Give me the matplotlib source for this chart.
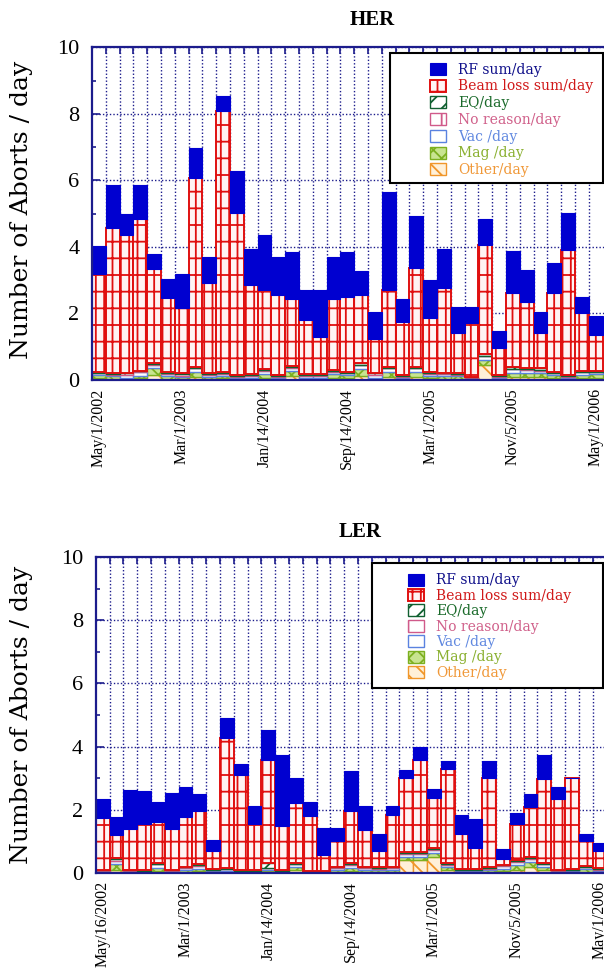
import matplotlib
matplotlib.use('Agg')
import matplotlib.pyplot as plt
from matplotlib.patches import Rectangle
import numpy as np

plt.rcParams['font.family'] = ['Liberation Serif', 'DejaVu Serif']
plt.rcParams['hatch.linewidth'] = 1.3

# ---- data (one value per run period) ----
her_tick_pos = [0, 6, 12, 18, 24, 30, 36]
her_tick_labels = ['May/1/2002', 'Mar/1/2003', 'Jan/14/2004', 'Sep/14/2004',
                   'Mar/1/2005', 'Nov/5/2005', 'May/1/2006']
ler_tick_pos = [0, 6, 12, 18, 24, 30, 36]
ler_tick_labels = ['May/16/2002', 'Mar/1/2003', 'Jan/14/2004', 'Sep/14/2004',
                   'Mar/1/2005', 'Nov/5/2005', 'May/1/2006']

her_rf = [0.83, 1.28, 0.65, 1.02, 0.45, 0.58, 1.03, 0.91, 0.78, 0.45, 1.26, 1.10, 1.63,
          1.15, 1.42, 0.90, 1.42, 1.27, 1.35, 0.73, 0.80, 2.93, 0.68, 1.55, 1.15, 1.17,
          0.80, 0.50, 0.80, 0.52, 1.26, 0.95, 0.63, 0.90, 1.10, 0.50, 0.57]
her_beam = [2.95, 4.37, 4.13, 4.57, 2.83, 2.23, 1.95, 5.67, 2.72, 7.84, 4.87, 2.67, 2.40,
            2.40, 2.01, 1.62, 1.10, 2.13, 2.25, 2.05, 1.01, 2.32, 1.60, 2.97, 1.60, 2.56,
            1.18, 1.60, 3.27, 0.80, 2.24, 2.00, 1.05, 2.37, 3.77, 1.72, 1.07]
her_eq = [0.03, 0.03, 0.02, 0.02, 0.05, 0.03, 0.03, 0.03, 0.03, 0.04, 0.02, 0.02, 0.03,
          0.02, 0.03, 0.02, 0.02, 0.03, 0.03, 0.04, 0.02, 0.03, 0.02, 0.03, 0.03, 0.02,
          0.03, 0.01, 0.05, 0.02, 0.04, 0.03, 0.04, 0.03, 0.02, 0.03, 0.03]
her_noreason = [0.02, 0.02, 0.05, 0.03, 0.02, 0.03, 0.05, 0.02, 0.02, 0.02, 0.03, 0.04, 0.02,
                0.03, 0.02, 0.05, 0.04, 0.02, 0.02, 0.02, 0.05, 0.02, 0.04, 0.02, 0.03, 0.02,
                0.03, 0.04, 0.02, 0.04, 0.02, 0.02, 0.03, 0.02, 0.04, 0.02, 0.02]
her_vac = [0.05, 0.04, 0.10, 0.10, 0.10, 0.06, 0.04, 0.12, 0.05, 0.06, 0.04, 0.05, 0.08,
           0.04, 0.10, 0.04, 0.05, 0.08, 0.06, 0.10, 0.08, 0.10, 0.04, 0.12, 0.06, 0.06,
           0.05, 0.02, 0.10, 0.04, 0.10, 0.10, 0.08, 0.06, 0.04, 0.07, 0.06]
her_mag = [0.10, 0.08, 0.03, 0.08, 0.20, 0.08, 0.05, 0.13, 0.07, 0.08, 0.04, 0.05, 0.12,
           0.04, 0.15, 0.05, 0.05, 0.10, 0.09, 0.22, 0.05, 0.15, 0.03, 0.13, 0.08, 0.08,
           0.07, 0.02, 0.16, 0.03, 0.14, 0.12, 0.12, 0.09, 0.03, 0.10, 0.10]
her_other = [0.05, 0.03, 0.02, 0.05, 0.15, 0.04, 0.03, 0.10, 0.03, 0.05, 0.02, 0.02, 0.07,
             0.02, 0.12, 0.02, 0.02, 0.07, 0.05, 0.12, 0.02, 0.10, 0.02, 0.10, 0.05, 0.04,
             0.04, 0.01, 0.45, 0.02, 0.08, 0.08, 0.08, 0.05, 0.02, 0.06, 0.07]

ler_rf = [0.59, 0.57, 1.24, 1.04, 0.64, 1.15, 0.95, 0.53, 0.34, 0.65, 0.35, 0.56, 0.94,
          2.23, 0.82, 0.44, 0.86, 0.43, 1.27, 0.75, 0.52, 0.27, 0.23, 0.41, 0.31, 0.26,
          0.58, 0.92, 0.53, 0.32, 0.34, 0.39, 0.76, 0.39, 0.00, 0.24, 0.24]
ler_beam = [1.64, 0.73, 1.29, 1.48, 1.28, 1.29, 1.58, 1.69, 0.58, 4.10, 3.01, 1.48, 3.25,
            1.42, 1.88, 1.75, 0.52, 0.80, 1.65, 1.17, 0.53, 1.65, 2.37, 2.92, 1.57, 2.98,
            1.12, 0.67, 2.84, 0.18, 1.16, 1.60, 2.64, 2.23, 2.88, 0.78, 0.56]
ler_eq = [0.02, 0.05, 0.02, 0.01, 0.03, 0.02, 0.02, 0.03, 0.02, 0.02, 0.01, 0.01, 0.15,
          0.01, 0.02, 0.01, 0.01, 0.02, 0.03, 0.02, 0.02, 0.02, 0.03, 0.03, 0.03, 0.03,
          0.02, 0.02, 0.02, 0.02, 0.03, 0.03, 0.03, 0.02, 0.02, 0.02, 0.02]
ler_noreason = [0.01, 0.05, 0.02, 0.02, 0.02, 0.02, 0.03, 0.02, 0.02, 0.02, 0.02, 0.02, 0.02,
                0.02, 0.02, 0.01, 0.01, 0.02, 0.02, 0.03, 0.02, 0.02, 0.02, 0.02, 0.02, 0.02,
                0.02, 0.02, 0.02, 0.02, 0.02, 0.02, 0.02, 0.02, 0.02, 0.02, 0.02]
ler_vac = [0.03, 0.10, 0.03, 0.02, 0.10, 0.03, 0.05, 0.08, 0.04, 0.06, 0.02, 0.02, 0.05,
           0.02, 0.10, 0.01, 0.01, 0.06, 0.10, 0.06, 0.05, 0.06, 0.10, 0.10, 0.12, 0.08,
           0.03, 0.03, 0.05, 0.08, 0.10, 0.10, 0.08, 0.03, 0.03, 0.06, 0.04]
ler_mag = [0.03, 0.20, 0.02, 0.02, 0.10, 0.02, 0.07, 0.08, 0.03, 0.04, 0.02, 0.02, 0.05,
           0.02, 0.10, 0.01, 0.01, 0.06, 0.10, 0.06, 0.06, 0.07, 0.10, 0.10, 0.12, 0.10,
           0.03, 0.03, 0.06, 0.08, 0.15, 0.15, 0.12, 0.02, 0.03, 0.08, 0.04]
ler_other = [0.01, 0.08, 0.01, 0.01, 0.07, 0.01, 0.03, 0.06, 0.02, 0.02, 0.01, 0.01, 0.05,
             0.01, 0.08, 0.01, 0.01, 0.04, 0.06, 0.03, 0.03, 0.03, 0.40, 0.40, 0.50, 0.08,
             0.02, 0.02, 0.03, 0.06, 0.10, 0.20, 0.08, 0.01, 0.02, 0.04, 0.03]

names = ['RF sum/day', 'Beam loss sum/day', 'EQ/day', 'No reason/day',
         'Vac /day', 'Mag /day', 'Other/day']

W, H = 604.0, 972.0
navy = '#1c1c8c'

# bar styles, in legend order
styles = [
    dict(color='#0000d0', edgecolor='#0000d0', linewidth=0.8),
    dict(color='#fff4f4', edgecolor='#e01010', hatch='||-', linewidth=1.4),
    dict(color='white', edgecolor='#106030', hatch='//', linewidth=1.0),
    dict(color='white', edgecolor='#d05a8a', hatch='|', linewidth=1.0),
    dict(color='white', edgecolor='#5a82e0', linewidth=1.0),
    dict(color='#c8e490', edgecolor='#7cb020', hatch='xx', linewidth=1.0),
    dict(color='#fff0d8', edgecolor='#f0962a', hatch='\\\\', linewidth=1.0),
]
text_colors = ['#10108a', '#d01818', '#1a6a2a', '#d0608a', '#6088e0', '#8ab030', '#f09838']


def px_axes(left, top, right, bottom):
    return fig.add_axes([left / W, 1 - bottom / H, (right - left) / W, (bottom - top) / H])


def draw_panel(ax, series, tick_pos, tick_labels, title, title_xy, leg_box, leg_anchor, spacing):
    n = len(series[0])
    x = np.arange(n) + 0.5
    bottom = np.zeros(n)
    handles = [None] * len(series)
    # stack from the bottom: Other, Mag, Vac, No reason, EQ, Beam loss, RF
    for k in range(len(series) - 1, -1, -1):
        vals = np.array(series[k])
        b = ax.bar(x, vals, 1.0, bottom=bottom, zorder=2, **styles[k])
        handles[k] = b
        bottom = bottom + vals
    ax.set_xlim(0, 518 / 13.8)
    ax.set_ylim(0, 10)
    ax.set_yticks([0, 2, 4, 6, 8, 10])
    ax.set_yticks(range(11), minor=True)
    ax.set_xticks(x[tick_pos])
    ax.set_xticklabels(tick_labels, rotation=90, fontsize=11.5)
    ax.set_xticks(np.arange(1, n), minor=True)
    ax.tick_params(axis='x', which='major', length=0, pad=6)
    ax.tick_params(axis='x', which='minor', direction='in', length=5, top=True,
                   bottom=True, color=navy, width=1.2)
    ax.tick_params(axis='y', which='both', direction='in', color=navy, width=1.2,
                   right=False, labelsize=16, pad=9)
    ax.tick_params(axis='y', which='major', length=6)
    ax.tick_params(axis='y', which='minor', length=3)
    ax.grid(True, which='minor', axis='x', color=navy, linestyle=(0, (1, 1.5)), linewidth=1.0)
    ax.grid(True, which='major', axis='y', color=navy, linestyle=(0, (1, 1.5)), linewidth=1.0)
    ax.set_axisbelow(True)
    for s in ax.spines.values():
        s.set_color(navy)
        s.set_linewidth(1.6)

    fig.text(title_xy[0] / W, 1 - title_xy[1] / H, title, fontsize=15,
             fontweight='bold', ha='center', va='center')

    ax.add_patch(Rectangle((leg_box[0], leg_box[1]), leg_box[2], leg_box[3],
                           transform=ax.transAxes, facecolor='white',
                           edgecolor='black', linewidth=1.5, zorder=5))
    leg = ax.legend(handles, names, loc='upper left', bbox_to_anchor=leg_anchor,
                    frameon=False, fontsize=10, handlelength=1.1, handleheight=0.95,
                    handletextpad=0.9, labelspacing=spacing, borderpad=0,
                    prop={'family': ['DejaVu Serif']})
    leg.set_zorder(6)
    for t, c in zip(leg.get_texts(), text_colors):
        t.set_color(c)
        t.set_fontsize(10)


fig = plt.figure(figsize=(6.04, 9.72), dpi=100)
fig.patch.set_facecolor('white')

ax1 = px_axes(92, 47.3, 610, 380)
draw_panel(ax1, [her_rf, her_beam, her_eq, her_noreason, her_vac, her_mag, her_other],
           her_tick_pos, her_tick_labels, 'HER', (372, 20),
           (0.575, 0.592, 0.411, 0.391), (0.64, 0.975), 0.2)

ax2 = px_axes(95.7, 557, 613.7, 873)
draw_panel(ax2, [ler_rf, ler_beam, ler_eq, ler_noreason, ler_vac, ler_mag, ler_other],
           ler_tick_pos, ler_tick_labels, 'LER', (360, 532),
           (0.533, 0.585, 0.446, 0.396), (0.59, 0.97), 0.1)

fig.text(22 / W, 1 - 210 / H, 'Number of Aborts / day', rotation=90, fontsize=18,
         ha='center', va='center', family=['DejaVu Serif'])
fig.text(22 / W, 1 - 715 / H, 'Number of Aborts / day', rotation=90, fontsize=18,
         ha='center', va='center', family=['DejaVu Serif'])

fig.savefig('out.png', dpi=100)
